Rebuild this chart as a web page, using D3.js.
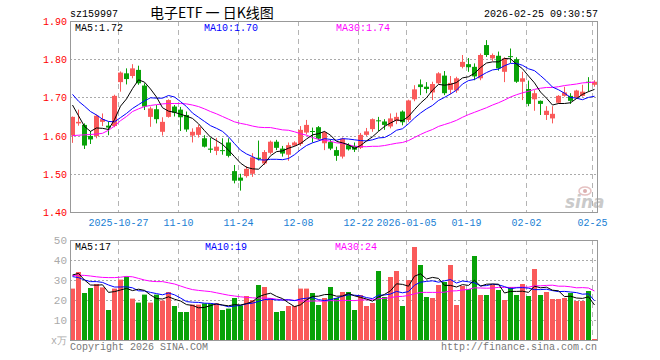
<!DOCTYPE html>
<html>
<head>
<meta charset="utf-8">
<script src="https://cdn.jsdelivr.net/npm/d3@7"></script>
<style>
  body { margin: 0; background: #fff; }
  text { font-family: "Liberation Mono", "DejaVu Sans Mono", monospace; font-size: 10px; }
</style>
</head>
<body>
<div id="chart"></div>
<script>
// date ticks (candle index -> label)
var tickIdx = [8, 18, 28, 38, 48, 56, 66, 76, 87];
var tickLabels = ["2025-10-27", "11-10", "11-24", "12-08", "12-22", "2026-01-05", "01-19", "02-02", "02-25"];
var priceTicks = [1.40, 1.50, 1.60, 1.70, 1.80, 1.90];
var volTicks = [10, 20, 30, 40, 50];

var opens = [1.600,1.632,1.628,1.599,1.599,1.636,1.626,1.625,1.740,1.763,1.756,1.772,1.731,1.649,1.669,1.610,1.649,1.676,1.668,1.654,
  1.600,1.602,1.593,1.566,1.560,1.562,1.582,1.507,1.490,1.494,1.500,1.542,1.527,1.555,1.584,1.566,1.550,1.574,1.578,1.608,
  1.612,1.622,1.580,1.583,1.562,1.545,1.575,1.573,1.568,1.602,1.617,1.640,1.637,1.624,1.638,1.663,1.641,1.695,1.734,1.728,
  1.713,1.737,1.757,1.720,1.718,1.780,1.787,1.780,1.750,1.837,1.802,1.809,1.767,1.808,1.800,1.741,1.722,1.695,1.691,1.654,
  1.645,1.686,1.704,1.704,1.700,1.704,1.741,1.733];
var highs = [1.650,1.668,1.632,1.612,1.655,1.658,1.637,1.707,1.768,1.776,1.787,1.783,1.737,1.676,1.680,1.648,1.695,1.680,1.675,1.663,
  1.619,1.628,1.601,1.594,1.594,1.593,1.593,1.523,1.500,1.520,1.554,1.587,1.562,1.587,1.589,1.573,1.582,1.585,1.625,1.641,
  1.621,1.625,1.612,1.590,1.571,1.595,1.580,1.582,1.607,1.620,1.645,1.649,1.643,1.658,1.660,1.666,1.694,1.732,1.747,1.740,
  1.741,1.766,1.769,1.756,1.754,1.811,1.803,1.789,1.815,1.850,1.815,1.820,1.805,1.828,1.805,1.767,1.744,1.719,1.692,1.677,
  1.677,1.706,1.728,1.711,1.720,1.733,1.753,1.745];
var lows = [1.581,1.626,1.565,1.578,1.593,1.625,1.601,1.622,1.715,1.734,1.750,1.733,1.667,1.623,1.632,1.600,1.647,1.650,1.612,1.610,
  1.582,1.595,1.569,1.555,1.549,1.550,1.543,1.475,1.456,1.490,1.492,1.535,1.523,1.551,1.562,1.545,1.534,1.572,1.573,1.603,
  1.582,1.588,1.562,1.562,1.534,1.540,1.561,1.557,1.565,1.599,1.610,1.612,1.615,1.619,1.630,1.627,1.636,1.690,1.706,1.711,
  1.693,1.735,1.706,1.708,1.712,1.776,1.767,1.745,1.745,1.806,1.795,1.770,1.740,1.790,1.738,1.693,1.677,1.665,1.654,1.641,
  1.632,1.683,1.702,1.683,1.698,1.702,1.715,1.728];
var closes = [1.649,1.636,1.574,1.590,1.652,1.643,1.621,1.704,1.765,1.748,1.776,1.737,1.676,1.671,1.643,1.636,1.693,1.660,1.648,1.616,
  1.610,1.622,1.571,1.563,1.571,1.560,1.547,1.482,1.482,1.513,1.543,1.539,1.557,1.584,1.568,1.553,1.575,1.582,1.615,1.628,
  1.610,1.592,1.609,1.566,1.547,1.592,1.564,1.563,1.602,1.611,1.643,1.638,1.628,1.645,1.649,1.635,1.692,1.721,1.727,1.722,
  1.735,1.763,1.711,1.738,1.750,1.793,1.779,1.755,1.811,1.811,1.811,1.776,1.802,1.806,1.741,1.750,1.683,1.711,1.683,1.665,
  1.657,1.704,1.713,1.691,1.718,1.715,1.739,1.741];

var ma5 = [1.680,1.652,1.624,1.611,1.620,1.619,1.616,1.642,1.677,1.696,1.723,1.746,1.740,1.722,1.701,1.673,1.664,1.661,1.656,1.651,
  1.645,1.631,1.613,1.596,1.587,1.577,1.562,1.545,1.528,1.517,1.513,1.512,1.527,1.547,1.558,1.560,1.567,1.572,1.579,1.591,
  1.602,1.605,1.611,1.601,1.585,1.581,1.576,1.566,1.574,1.586,1.597,1.611,1.624,1.633,1.641,1.639,1.650,1.668,1.685,1.699,
  1.719,1.734,1.732,1.734,1.739,1.751,1.754,1.763,1.778,1.790,1.793,1.793,1.802,1.801,1.787,1.775,1.756,1.738,1.714,1.698,
  1.680,1.684,1.684,1.686,1.697,1.708,1.715,1.721];
var ma10 = [1.708,1.690,1.677,1.663,1.654,1.643,1.637,1.636,1.647,1.658,1.671,1.681,1.691,1.699,1.698,1.698,1.705,1.701,1.689,1.676,
  1.659,1.648,1.637,1.626,1.619,1.611,1.597,1.579,1.562,1.552,1.545,1.537,1.536,1.538,1.538,1.537,1.540,1.550,1.563,1.574,
  1.581,1.586,1.592,1.590,1.588,1.592,1.591,1.589,1.587,1.586,1.589,1.594,1.595,1.603,1.614,1.618,1.631,1.646,1.659,1.670,
  1.679,1.692,1.700,1.709,1.719,1.735,1.744,1.747,1.756,1.765,1.772,1.774,1.783,1.789,1.789,1.784,1.775,1.770,1.757,1.743,
  1.727,1.720,1.711,1.700,1.698,1.694,1.700,1.703];
var ma30 = [1.600,1.601,1.602,1.603,1.604,1.606,1.614,1.625,1.639,1.650,1.663,1.670,1.676,1.679,1.681,1.683,1.684,1.684,1.684,1.683,
  1.680,1.676,1.670,1.663,1.657,1.650,1.643,1.636,1.632,1.629,1.625,1.622,1.621,1.621,1.618,1.615,1.614,1.610,1.605,1.601,
  1.595,1.590,1.588,1.585,1.581,1.580,1.576,1.572,1.571,1.571,1.572,1.572,1.574,1.577,1.580,1.582,1.587,1.595,1.603,1.610,
  1.616,1.624,1.629,1.634,1.640,1.648,1.655,1.661,1.667,1.673,1.680,1.686,1.693,1.701,1.707,1.712,1.716,1.721,1.724,1.726,
  1.726,1.728,1.731,1.733,1.735,1.738,1.739,1.740];

// volume, unit 万
var volumes = [25.7,34,23.5,26,28,26.3,15,25.7,30.2,31.7,20.7,18.7,22.7,18.7,22.7,19.7,24,17,14,14,
  17.7,17.7,18.3,18.3,18.3,15,15.7,21,17.3,22,20,27.5,26.5,21,14,14.5,17,17,25.7,25.7,
  23.5,17.5,21,26.5,21,24,24,15,22.5,17,18.5,34.5,21.5,31.5,34.5,17,30,46.5,37.5,21.5,
  21,27.5,29,37.5,17.5,27,25.5,42,22.5,22.5,27.5,25,20,26.5,22.5,28,22,35.5,22.5,24,
  20.5,20.5,21,23.5,19.5,19.5,24.5,0.5];
var volMa5 = [32.5,33.3,30.0,27.5,27.4,27.6,23.8,24.2,25.0,25.8,24.7,25.4,24.8,22.5,20.7,20.5,21.6,20.4,19.5,17.7,
  17.3,16.1,16.3,17.2,18.1,17.5,17.1,17.7,17.5,18.2,19.2,21.6,22.7,23.4,21.8,20.7,18.6,16.7,17.6,20.0,
  21.8,21.9,22.7,22.8,21.9,22.0,23.3,22.1,21.3,20.5,19.4,21.5,22.8,24.6,28.1,27.8,26.9,31.9,33.1,30.5,
  31.3,30.8,27.3,27.3,26.5,27.7,27.3,29.9,26.9,27.9,28.0,27.9,23.5,24.3,24.3,24.4,23.8,26.9,26.1,26.4,
  24.9,24.6,21.7,21.9,21.0,20.8,21.6,17.5];
var volMa10 = [31.7,31.2,30.0,29.2,29.2,28.8,27.5,26.5,26.5,26.6,26.1,24.6,24.5,23.8,23.2,22.6,23.5,22.6,21.0,19.2,
  18.9,18.8,18.4,18.3,17.9,17.4,16.6,17.0,17.3,18.1,18.4,19.3,20.2,20.4,20.0,20.0,20.1,19.7,20.5,20.9,
  21.2,20.2,19.7,20.2,20.9,21.9,22.6,22.4,22.1,21.2,20.7,22.4,22.5,23.0,24.3,23.6,24.2,27.4,28.9,29.3,
  29.6,28.9,29.6,30.2,28.5,29.5,29.1,28.6,27.1,27.2,27.9,27.6,26.7,25.6,26.1,26.2,25.9,25.2,25.2,25.4,
  24.7,24.2,24.3,24.0,23.7,22.9,23.1,19.6];
var volMa30 = [32.2,32.4,32.3,32.0,31.6,31.3,31.2,31.2,31.4,31.8,31.6,30.8,30.0,29.4,29.2,29.2,28.6,28.0,27.0,26.0,
  25.2,24.8,24.5,24.2,23.6,23.0,22.4,22.0,21.6,21.3,21.1,20.9,21.0,20.8,20.4,20.0,20.1,19.8,19.6,19.4,
  19.5,19.5,19.4,19.7,19.6,19.8,19.8,19.7,20.0,20.1,20.1,20.7,20.8,21.2,21.7,21.8,22.3,23.1,23.8,23.8,
  23.8,23.8,23.9,24.5,24.6,25.0,25.3,26.1,26.0,25.9,26.0,26.3,26.3,26.3,26.3,26.4,26.4,27.1,27.1,27.3,
  27.4,26.9,26.9,26.6,26.1,26.2,26.0,24.5];

var UP = "#fa5a5a", DOWN = "#08a208";
var n = closes.length;

var svg = d3.select("#chart").append("svg")
  .attr("width", 660)
  .attr("height", 360)
  .style("display", "block");

// layout
var left = 70, right = 598;
var pTop = 21, pBottom = 212;
var vTop = 240, vBottom = 340;

var x = d3.scaleLinear().domain([0, 88]).range([left, right]);
var y = d3.scaleLinear().domain([1.40, 1.90]).range([pBottom, pTop]);
var yv = d3.scaleLinear().domain([0, 50]).range([vBottom, vTop]);

var candles = d3.range(n).map(function (i) {
  return { i: i, o: opens[i], h: highs[i], l: lows[i], c: closes[i], v: volumes[i] };
});
function col(d) { return d.c >= d.o ? UP : DOWN; }

// header
svg.append("text").attr("x", 70).attr("y", 17).text("sz159997");
svg.append("text").attr("x", 150).attr("y", 18)
  .style("font-family", "'Noto Sans CJK SC', sans-serif").style("font-size", "14px")
  .text("电子ETF 一 日K线图");
svg.append("text").attr("x", 598).attr("y", 17).attr("text-anchor", "end").text("2026-02-25 09:30:57");

// ---- price panel ----
var pg = svg.append("g");

pg.selectAll(".hgrid").data(priceTicks.slice(1, -1)).enter().append("line")
  .attr("x1", left).attr("x2", right)
  .attr("y1", d => Math.round(y(d)) + 0.5).attr("y2", d => Math.round(y(d)) + 0.5)
  .attr("stroke", "#aaa").attr("stroke-dasharray", "2,2");

pg.selectAll(".vgrid").data(tickIdx).enter().append("line")
  .attr("x1", d => x(d) + 0.5).attr("x2", d => x(d) + 0.5)
  .attr("y1", pTop).attr("y2", pBottom)
  .attr("stroke", "#b4b4b4").attr("stroke-dasharray", "5,4");

pg.selectAll(".plab").data(priceTicks).enter().append("text")
  .attr("x", 67).attr("y", d => y(d) + 4)
  .attr("text-anchor", "end").attr("fill", "#f00")
  .text(d => d.toFixed(2));

pg.selectAll(".dlab").data(tickIdx).enter().append("text")
  .attr("x", d => x(d) + 0.5).attr("y", 226)
  .attr("text-anchor", "middle").attr("fill", "#1a80d4")
  .text((d, k) => tickLabels[k]);

// wicks
pg.selectAll(".wick").data(candles).enter().append("rect")
  .attr("x", d => x(d.i) + 2).attr("width", 1)
  .attr("y", d => y(d.h)).attr("height", d => y(d.l) - y(d.h))
  .attr("fill", col);

// bodies
pg.selectAll(".body").data(candles).enter().append("rect")
  .attr("x", d => x(d.i)).attr("width", 5)
  .attr("y", d => y(Math.max(d.o, d.c)))
  .attr("height", d => Math.max(1, Math.abs(y(d.o) - y(d.c))))
  .attr("fill", col);

var priceLine = d3.line().x((d, i) => x(i) + 2.5).y(d => y(d));
[[ma30, "#f0f"], [ma10, "#00f"], [ma5, "#000"]].forEach(function (s) {
  pg.append("path").datum(s[0]).attr("d", priceLine)
    .attr("fill", "none").attr("stroke", s[1]).attr("stroke-width", 1);
});

pg.append("rect").attr("x", left + 0.5).attr("y", pTop + 0.5)
  .attr("width", right - left - 1).attr("height", pBottom - pTop)
  .attr("fill", "none").attr("stroke", "#999");

pg.append("text").attr("x", 75).attr("y", 31).text("MA5:" + ma5[n - 1].toFixed(2));
pg.append("text").attr("x", 204).attr("y", 31).attr("fill", "#00f").text("MA10:" + ma10[n - 1].toFixed(2));
pg.append("text").attr("x", 336).attr("y", 31).attr("fill", "#f0f").text("MA30:" + ma30[n - 1].toFixed(2));

// sina watermark
var wm = pg.append("g").attr("opacity", 0.55);
wm.append("text").attr("x", 565).attr("y", 208)
  .style("font-family", "'DejaVu Sans', sans-serif").style("font-size", "17px")
  .style("font-weight", "bold").style("font-style", "italic")
  .attr("fill", "#a0a0a0").text("sina");
wm.append("ellipse").attr("cx", 585).attr("cy", 191).attr("rx", 6).attr("ry", 4)
  .attr("fill", "none").attr("stroke", "#d09090").attr("stroke-width", 1.5);
wm.append("circle").attr("cx", 585).attr("cy", 191).attr("r", 2).attr("fill", "#c07070");

// ---- volume panel ----
var vg = svg.append("g");

vg.selectAll(".hgrid").data(volTicks.slice(0, -1)).enter().append("line")
  .attr("x1", left).attr("x2", right)
  .attr("y1", d => yv(d) + 0.5).attr("y2", d => yv(d) + 0.5)
  .attr("stroke", "#aaa").attr("stroke-dasharray", "2,2");

vg.selectAll(".vgrid").data(tickIdx).enter().append("line")
  .attr("x1", d => x(d) + 0.5).attr("x2", d => x(d) + 0.5)
  .attr("y1", vTop).attr("y2", vBottom)
  .attr("stroke", "#b4b4b4").attr("stroke-dasharray", "5,4");

vg.selectAll(".vlab").data(volTicks).enter().append("text")
  .attr("x", 67).attr("y", d => yv(d) + 4)
  .attr("text-anchor", "end").attr("fill", "#aaa")
  .style("font-size", "11px")
  .text(d => d);
vg.append("text").attr("x", 67).attr("y", 344).attr("text-anchor", "end")
  .attr("fill", "#aaa").text("x万");

vg.selectAll(".vbar").data(candles).enter().append("rect")
  .attr("x", d => x(d.i)).attr("width", 5)
  .attr("y", d => yv(d.v)).attr("height", d => vBottom - yv(d.v))
  .attr("fill", col);

var volLine = d3.line().x((d, i) => x(i) + 2.5).y(d => yv(d));
[[volMa30, "#f0f"], [volMa10, "#00f"], [volMa5, "#000"]].forEach(function (s) {
  vg.append("path").datum(s[0]).attr("d", volLine)
    .attr("fill", "none").attr("stroke", s[1]).attr("stroke-width", 1);
});

vg.append("rect").attr("x", left + 0.5).attr("y", vTop + 0.5)
  .attr("width", right - left - 1).attr("height", vBottom - vTop)
  .attr("fill", "none").attr("stroke", "#999");

vg.append("text").attr("x", 75).attr("y", 250).text("MA5:" + Math.floor(volMa5[n - 1]));
vg.append("text").attr("x", 205).attr("y", 250).attr("fill", "#00f").text("MA10:" + Math.floor(volMa10[n - 1]));
vg.append("text").attr("x", 335).attr("y", 250).attr("fill", "#f0f").text("MA30:" + Math.floor(volMa30[n - 1]));

// footer
svg.append("text").attr("x", 70).attr("y", 350).attr("fill", "#777").text("Copyright 2026 SINA.COM");
svg.append("text").attr("x", 597).attr("y", 350).attr("text-anchor", "end").attr("fill", "#777").text("http://finance.sina.com.cn");
</script>
</body>
</html>
